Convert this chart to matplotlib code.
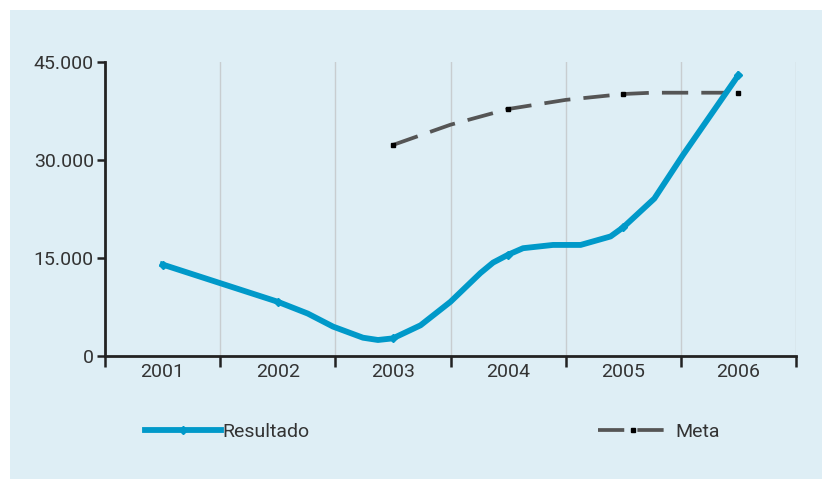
import matplotlib
matplotlib.use('Agg')
import matplotlib.pyplot as plt
from matplotlib.patches import Rectangle
from matplotlib.lines import Line2D

plt.rcParams['font.family'] = ['Roboto', 'DejaVu Sans']

# Resultado: points along the curve (fractional year, value)
res_x = [2001.0, 2002.0, 2002.26, 2002.48, 2002.74, 2002.87, 2003.0, 2003.24, 2003.5,
         2003.76, 2003.87, 2004.0, 2004.13, 2004.39, 2004.63, 2004.89, 2005.0, 2005.27,
         2005.52, 2006.0]
res_y = [14000, 8300, 6500, 4500, 2800, 2450, 2700, 4700, 8300,
         12700, 14300, 15500, 16500, 17000, 17000, 18300, 19700, 24100,
         30800, 43000]
res_marks = [0, 1, 6, 11, 16, 19]

# Meta
meta_x = [2003.0, 2003.5, 2004.0, 2004.5, 2005.0, 2005.25, 2006.0]
meta_y = [32300, 35400, 37800, 39200, 40100, 40300, 40300]
meta_marks = [0, 2, 4, 6]

years = [2001, 2002, 2003, 2004, 2005, 2006]
yticks = [0, 15000, 30000, 45000]
ylabels = ['0', '15.000', '30.000', '45.000']

bg = '#deeef5'
blue = '#0099c9'
grey = '#555555'
txt = '#333333'

fig = plt.figure(figsize=(8.22, 4.79), dpi=100, facecolor='white')
fig.patches.append(Rectangle((10/822, 0), 1, 1 - 10/479, transform=fig.transFigure,
                             facecolor=bg, edgecolor='none', zorder=-10))
ax = fig.add_axes([105/822, 123/479, 691/822, 294/479])
ax.set_facecolor('none')

ax.plot(res_x, res_y, color=blue, lw=4.2, solid_joinstyle='round',
        marker='D', markersize=4, markevery=res_marks, zorder=3)
ax.plot(meta_x, meta_y, color=grey, lw=2.7, dashes=(7, 3.5),
        marker='s', markersize=3, markerfacecolor='black', markeredgecolor='black',
        markevery=meta_marks, zorder=2)

ax.set_xlim(2000.5, 2006.5)
ax.set_ylim(0, 45000)
bounds = [2000.5 + k for k in range(7)]
ax.set_xticks(bounds)
ax.set_xticklabels([])
ax.set_xticks(years, minor=True)
ax.set_xticklabels([str(y) for y in years], minor=True)
ax.tick_params(axis='x', which='major', direction='out', length=8, width=1.8, color='#222222')
ax.tick_params(axis='x', which='minor', length=0, pad=5, labelsize=14, labelcolor=txt)
ax.set_yticks(yticks)
ax.set_yticklabels(ylabels)
ax.tick_params(axis='y', direction='out', length=6, width=1.8, color='#222222',
               labelsize=14, labelcolor=txt, pad=2)
for b in bounds[1:]:
    ax.axvline(b, color='#c8cdd0', lw=1, zorder=0)

for s in ['top', 'right']:
    ax.spines[s].set_visible(False)
for s in ['left', 'bottom']:
    ax.spines[s].set_linewidth(2)
    ax.spines[s].set_color('#222222')

h1 = Line2D([], [], color=blue, lw=4.2, marker='D', markersize=4)
h2 = Line2D([], [], color=grey, lw=2.7, dashes=(7, 3.5), marker='s', markersize=3,
            markerfacecolor='black', markeredgecolor='black')
fig.legend([h1], ['Resultado'], loc='center left', bbox_to_anchor=(145/822, 1 - 432/479),
           frameon=False, fontsize=14, handlelength=3.9, handletextpad=0.1,
           borderpad=0, borderaxespad=0, numpoints=1, labelcolor=txt)
fig.legend([h2], ['Meta'], loc='center left', bbox_to_anchor=(598/822, 1 - 432/479),
           frameon=False, fontsize=14, handlelength=3.6, handletextpad=0.4,
           borderpad=0, borderaxespad=0, numpoints=1, labelcolor=txt)

fig.savefig('out.png', dpi=100, facecolor='white')
